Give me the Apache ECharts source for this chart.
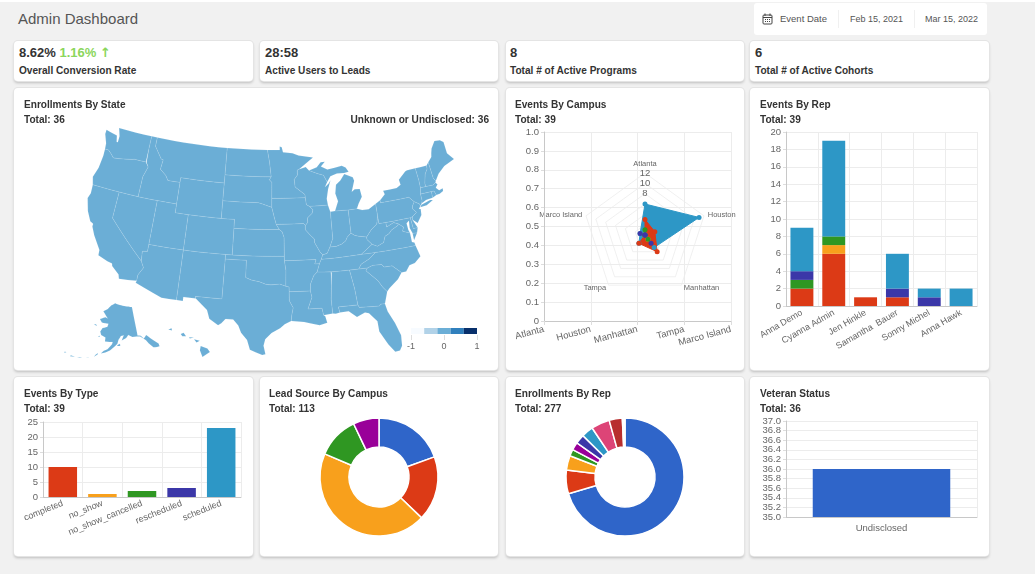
<!DOCTYPE html>
<html>
<head>
<meta charset="utf-8">
<title>Admin Dashboard</title>
<script src="https://cdn.jsdelivr.net/npm/echarts@6/dist/echarts.min.js"></script>
<style>
	html, body { margin: 0; padding: 0; width: 1035px; height: 574px; overflow: hidden; background: #f1f1f1; font-family: "Liberation Sans", Arial, sans-serif; color: #333; }
	.strip { position: absolute; left: 0; top: 0; width: 1035px; height: 2px; background: #fff; }
	.heading { position: absolute; left: 18px; top: 10px; font-size: 15px; color: #555; line-height: 18px; }
	.dates { position: absolute; left: 754px; top: 3px; width: 233px; height: 32px; background: #fff; border-radius: 3px; font-size: 9px; color: #555; line-height: 32px; }
	.dates span { position: absolute; top: 0; }
	.dates i { position: absolute; top: 7px; width: 1px; height: 18px; background: #f0f0f0; }
	.dates svg { position: absolute; left: 8px; top: 10px; }
	.card { position: absolute; background: #fff; border-radius: 4px; box-shadow: 0 0 0 1px #e4e4e4, 0 2px 3px rgba(0,0,0,.22); }
	.card b { position: absolute; white-space: pre; font-size: 10.1px; line-height: 12px; color: #333; }
	.card b.num { font-size: 13px; line-height: 16px; }
	.card b.num em { font-style: normal; color: #8bd65c; }
	.card b.num em u { text-decoration: none; font-family: "DejaVu Sans"; font-size: 13px; }
	.chart { position: absolute; left: 0; top: 0; width: 100%; height: 100%; }
</style>
</head>
<body>
<div class="strip"></div>
<div class="heading">Admin Dashboard</div>
<div class="dates">
	<svg width="11" height="12" viewBox="0 0 11 12" fill="none" stroke="#444" stroke-width="1"><rect x="1" y="2" width="9" height="9" rx="1"/><path d="M1 4.5h9M3 .5v2.5M8 .5v2.5"/><path d="M3 6.5h1M5 6.5h1M7 6.5h1M3 8.5h1M5 8.5h1M7 8.5h1"/></svg>
	<span style="left:26px;font-size:9.5px">Event Date</span><i style="left:84px"></i>
	<span style="left:96px">Feb 15, 2021</span><i style="left:160px"></i>
	<span style="left:171px">Mar 15, 2022</span>
</div>

<div class="card" style="left:14px;top:41px;width:239px;height:40px">
	<b class="num" style="left:5px;top:4px">8.62% <em>1.16% <u>↑</u></em></b><b style="left:5px;top:24px">Overall Conversion Rate</b>
</div>
<div class="card" style="left:260px;top:41px;width:238px;height:40px">
	<b class="num" style="left:5px;top:4px">28:58</b><b style="left:5px;top:24px">Active Users to Leads</b>
</div>
<div class="card" style="left:506px;top:41px;width:238px;height:40px">
	<b class="num" style="left:4px;top:4px">8</b><b style="left:4px;top:24px">Total # of Active Programs</b>
</div>
<div class="card" style="left:750px;top:41px;width:239px;height:40px">
	<b class="num" style="left:5px;top:4px">6</b><b style="left:5px;top:24px">Total # of Active Cohorts</b>
</div>

<div class="card" style="left:14px;top:88px;width:484px;height:282px">
	<div class="chart" id="stateChart"></div>
	<b style="left:10px;top:11px">Enrollments By State</b><b style="left:10px;top:26px">Total: 36</b>
	<b style="right:9px;top:26px">Unknown or Undisclosed: 36</b>
</div>
<div class="card" style="left:506px;top:88px;width:238px;height:282px">
	<div class="chart" id="campusChart"></div>
	<b style="left:9px;top:11px">Events By Campus</b><b style="left:9px;top:26px">Total: 39</b>
</div>
<div class="card" style="left:750px;top:88px;width:239px;height:282px">
	<div class="chart" id="repChart"></div>
	<b style="left:10px;top:11px">Events By Rep</b><b style="left:10px;top:26px">Total: 39</b>
</div>
<div class="card" style="left:14px;top:377px;width:239px;height:179px">
	<div class="chart" id="typeChart"></div>
	<b style="left:10px;top:11px">Events By Type</b><b style="left:10px;top:26px">Total: 39</b>
</div>
<div class="card" style="left:260px;top:377px;width:238px;height:179px">
	<div class="chart" id="leadChart"></div>
	<b style="left:9px;top:11px">Lead Source By Campus</b><b style="left:9px;top:26px">Total: 113</b>
</div>
<div class="card" style="left:506px;top:377px;width:238px;height:179px">
	<div class="chart" id="enrollChart"></div>
	<b style="left:9px;top:11px">Enrollments By Rep</b><b style="left:9px;top:26px">Total: 277</b>
</div>
<div class="card" style="left:750px;top:377px;width:239px;height:179px">
	<div class="chart" id="veteranChart"></div>
	<b style="left:10px;top:11px">Veteran Status</b><b style="left:10px;top:26px">Total: 36</b>
</div>

<script>
	const eventTypes = ["completed", "no_show", "no_show_cancelled", "rescheduled", "scheduled"]
	const typeCounts = [10, 1, 2, 3, 23]
	const typeColors = ["#dc3a16", "#f8a01c", "#2f9722", "#3b37a8", "#2d97c6"]

	const campuses = ["Atlanta", "Houston", "Manhattan", "Tampa", "Marco Island"]
	// radar runs counter-clockwise, so its spokes are listed the other way round
	const radarCampuses = ["Atlanta", "Marco Island", "Tampa", "Manhattan", "Houston"]
	const campusScheduled = [6, 1, 2, 3, 11]
	const campusCompleted = [3, 0, 2, 4, 2]
	const campusNoShow = [0, 0, 0, 1, 0]
	const campusCancelled = [1, 0, 0, 1, 0]
	const campusRescheduled = [0, 1, 0, 2, 0]

	const reps = ["Anna Demo", "Cyanna Admin", "Jen Hinkle", "Samantha  Bauer", "Sonny Michel", "Anna Hawk"]
	const repCompleted = [2, 6, 1, 1, 0, 0]
	const repNoShow = [0, 1, 0, 0, 0, 0]
	const repCancelled = [1, 1, 0, 0, 0, 0]
	const repRescheduled = [1, 0, 0, 1, 1, 0]
	const repScheduled = [5, 11, 0, 4, 1, 2]

	const leadSources = ["Atlanta", "Houston", "Manhattan", "Tampa", "Marco Island"]
	const leadCounts = [22, 20, 50, 13, 8]
	const leadColors = ["#2f65c9", "#dc3a16", "#f8a01c", "#2f9722", "#990099"]

	const enrollReps = ["Rep 1", "Rep 2", "Rep 3", "Rep 4", "Rep 5", "Rep 6", "Rep 7", "Rep 8", "Rep 9", "Rep 10", "Rep 11"]
	const enrollCounts = [195, 18, 11, 5, 6, 7, 9, 14, 10, 1, 1]
	const enrollColors = ["#2f65c9", "#dc3a16", "#f8a01c", "#2f9722", "#990099", "#3b37a8", "#2d97c6", "#dd4477", "#b82e2e", "#66aa00", "#316395"]

	const veteranLabels = ["Undisclosed"]
	const veteranCounts = [36]
	// echarts drops the tick next to min/max when they touch, so these two go on a second axis
	const veteranCrowdedTicks = ["35.2", "36.8"]

	const stateCodes = ["WA", "OR", "CA", "NV", "ID", "MT", "WY", "UT", "AZ", "CO", "NM", "TX", "OK", "KS", "NE", "SD", "ND", "MN", "IA", "MO", "AR", "LA", "MS", "AL", "GA", "FL", "SC", "NC", "TN", "KY", "VA", "WV", "MD", "DE", "OH", "IN", "IL", "WI", "MI", "PA", "NY", "NJ", "CT", "RI", "MA", "VT", "NH", "ME", "AK", "HI"]
	const stateValues = stateCodes.map(() => 0)
	const legendPieces = [-1, -0.6, -0.2, 0.2, 0.6, 1]
	const legendColors = ["#f7fbff", "#b1d2e8", "#6baed6", "#3080bd", "#08306b"]

	// base map outline, lon/lat; rings are hand traced and rough
	const stateRings = {
		WA: [[[-124.7,48.4],[-123.1,48.15],[-122.75,48.1],[-122.5,47.4],[-122.3,47.4],[-122.3,48.1],[-122.75,49],[-117.03,49],[-117.04,46],[-118.98,46],[-119.3,45.93],[-121.2,45.65],[-122.3,45.55],[-122.8,45.9],[-123.4,46.25],[-124,46.25],[-124.1,46.9],[-124.7,47.9]]],
		OR: [[[-124,46.25],[-123.4,46.25],[-122.8,45.9],[-122.3,45.55],[-121.2,45.65],[-119.3,45.93],[-118.98,46],[-117.04,46],[-116.92,45.98],[-116.5,45.5],[-117,44.3],[-117.03,42],[-120,42],[-124.2,42],[-124.55,42.85],[-124.1,44],[-123.95,45.5]]],
		CA: [[[-124.2,42],[-120,42],[-120,39],[-114.63,35],[-114.15,34.3],[-114.72,33.4],[-114.72,32.72],[-117.12,32.53],[-117.3,33],[-118.4,33.75],[-118.5,34.03],[-119.2,34.15],[-120.6,34.55],[-120.65,35.15],[-121.9,36.6],[-122.5,37.5],[-122.5,37.8],[-123,38],[-123.75,39],[-124.35,40.4],[-124.1,41]]],
		NV: [[[-120,42],[-117.03,42],[-114.04,42],[-114.04,37],[-114.04,36.2],[-114.75,36.1],[-114.63,35],[-120,39]]],
		ID: [[[-117.03,49],[-116.05,49],[-116.05,48],[-114.7,46.7],[-114.35,46.65],[-114.5,45.55],[-113.45,44.95],[-113,44.45],[-111.05,44.47],[-111.05,42],[-114.04,42],[-117.03,42],[-117,44.3],[-116.5,45.5],[-116.92,45.98],[-117.04,46]]],
		MT: [[[-116.05,49],[-104.05,49],[-104.05,45.94],[-104.05,45],[-111.05,45],[-111.05,44.47],[-113,44.45],[-113.45,44.95],[-114.5,45.55],[-114.35,46.65],[-114.7,46.7],[-116.05,48]]],
		WY: [[[-111.05,45],[-104.05,45],[-104.05,43],[-104.05,41],[-109.05,41],[-111.05,41],[-111.05,42],[-111.05,44.47]]],
		UT: [[[-114.04,42],[-111.05,42],[-111.05,41],[-109.05,41],[-109.05,37],[-114.04,37]]],
		AZ: [[[-114.04,37],[-109.05,37],[-109.05,31.33],[-111.07,31.33],[-114.81,32.5],[-114.72,32.72],[-114.72,33.4],[-114.15,34.3],[-114.63,35],[-114.75,36.1],[-114.04,36.2]]],
		CO: [[[-109.05,41],[-104.05,41],[-102.05,41],[-102.05,40],[-102.05,37],[-103,37],[-109.05,37]]],
		NM: [[[-109.05,37],[-103,37],[-103,36.5],[-103.05,32],[-106.62,32],[-106.53,31.78],[-108.2,31.78],[-108.2,31.33],[-109.05,31.33]]],
		TX: [[[-103,36.5],[-100,36.5],[-100,34.56],[-99.2,34.3],[-98.1,34.13],[-97.2,33.85],[-96.5,33.8],[-95.3,33.88],[-94.48,33.64],[-94.04,33.55],[-94.04,33.02],[-94.04,31.99],[-93.55,31.18],[-93.75,30.4],[-93.85,29.7],[-94.7,29.35],[-95.3,28.9],[-96.4,28.35],[-97.2,27.65],[-97.4,26.9],[-97.15,25.95],[-97.55,25.85],[-99.1,26.4],[-99.5,27.5],[-100.3,28.3],[-100.7,29.1],[-101.4,29.77],[-102.4,29.77],[-102.9,29.25],[-103.3,29],[-104.5,29.65],[-104.9,30.6],[-106.53,31.78],[-106.62,32],[-103.05,32]]],
		OK: [[[-103,37],[-102.05,37],[-94.62,37],[-94.62,36.5],[-94.43,35.4],[-94.48,33.64],[-95.3,33.88],[-96.5,33.8],[-97.2,33.85],[-98.1,34.13],[-99.2,34.3],[-100,34.56],[-100,36.5],[-103,36.5]]],
		KS: [[[-102.05,40],[-95.31,40],[-94.9,39.75],[-94.62,39.1],[-94.62,37],[-102.05,37]]],
		NE: [[[-104.05,43],[-98.5,43],[-97.85,42.85],[-96.45,42.5],[-96.1,41.5],[-95.77,40.58],[-95.31,40],[-102.05,40],[-102.05,41],[-104.05,41]]],
		SD: [[[-104.05,45.94],[-96.56,45.94],[-96.85,45.6],[-96.45,45.3],[-96.45,43.5],[-96.45,42.5],[-97.85,42.85],[-98.5,43],[-104.05,43],[-104.05,45]]],
		ND: [[[-104.05,49],[-97.23,49],[-96.85,47.6],[-96.56,45.94],[-104.05,45.94]]],
		MN: [[[-97.23,49],[-95.15,49],[-95.15,49.38],[-94.8,49.3],[-94.6,48.72],[-93,48.6],[-92,48.3],[-89.6,48],[-92,46.75],[-92.3,46.65],[-92.3,46.1],[-92.85,45.6],[-92.75,44.75],[-91.25,43.85],[-91.22,43.5],[-96.45,43.5],[-96.45,45.3],[-96.85,45.6],[-96.56,45.94],[-96.85,47.6]]],
		IA: [[[-96.45,43.5],[-91.22,43.5],[-91.1,42.7],[-90.65,42.5],[-90.15,42.1],[-90.3,41.7],[-91.05,41.2],[-91.05,40.7],[-91.42,40.38],[-91.7,40.6],[-95.77,40.58],[-96.1,41.5],[-96.45,42.5]]],
		MO: [[[-95.77,40.58],[-91.7,40.6],[-91.42,40.38],[-91.45,39.9],[-90.75,39.25],[-90.2,38.8],[-90.2,38.4],[-89.5,37.3],[-89.15,36.98],[-89.4,36.5],[-89.7,36],[-90.37,36],[-90.15,36.5],[-94.62,36.5],[-94.62,37],[-94.62,39.1],[-94.9,39.75],[-95.31,40]]],
		AR: [[[-94.62,36.5],[-90.15,36.5],[-90.37,36],[-89.7,36],[-90.1,35.1],[-90.6,34.7],[-91.1,33.8],[-91.17,33],[-94.04,33.02],[-94.04,33.55],[-94.48,33.64],[-94.43,35.4]]],
		LA: [[[-94.04,33.02],[-91.17,33],[-91,32.3],[-91.6,31],[-89.75,31],[-89.6,30.2],[-89.4,30.05],[-89.2,29.3],[-90.2,29.1],[-91.3,29.35],[-92.2,29.55],[-93.85,29.7],[-93.75,30.4],[-93.55,31.18],[-94.04,31.99]]],
		MS: [[[-90.1,35.1],[-88.2,35],[-88.1,34.9],[-88.45,31.9],[-88.4,30.3],[-89.6,30.2],[-89.75,31],[-91.6,31],[-91,32.3],[-91.17,33],[-91.1,33.8],[-90.6,34.7]]],
		AL: [[[-88.2,35],[-85.6,35],[-85.18,32.87],[-85,31],[-87.6,31],[-87.45,30.35],[-88,30.25],[-88.4,30.3],[-88.45,31.9],[-88.1,34.9]]],
		GA: [[[-85.6,35],[-84.32,35],[-83.1,35],[-83.35,34.7],[-81.9,33.4],[-81.4,32.6],[-80.9,32.05],[-81.45,30.72],[-82.05,30.75],[-82.2,30.55],[-84.85,30.7],[-85,31],[-85.18,32.87]]],
		FL: [[[-87.6,31],[-85,31],[-84.85,30.7],[-82.2,30.55],[-82.05,30.75],[-81.45,30.72],[-81.25,29.8],[-80.55,28.4],[-80.05,26.9],[-80.15,25.7],[-80.5,25.2],[-81.1,25.15],[-81.8,26.1],[-82.7,27.7],[-82.75,28.9],[-83.7,29.9],[-84.2,30.05],[-85.3,29.65],[-86.3,30.4],[-87.45,30.35]]],
		SC: [[[-83.1,35],[-82.3,35.2],[-81.05,35.15],[-80.8,34.82],[-79.67,34.8],[-78.55,33.87],[-79.2,33.2],[-80.5,32.4],[-80.9,32.05],[-81.4,32.6],[-81.9,33.4],[-83.35,34.7]]],
		NC: [[[-81.68,36.59],[-75.9,36.55],[-75.55,35.25],[-76.5,34.65],[-77.3,34.5],[-77.9,33.9],[-78.55,33.87],[-79.67,34.8],[-80.8,34.82],[-81.05,35.15],[-82.3,35.2],[-83.1,35],[-84.32,35],[-83.9,35.5],[-82.6,36]]],
		TN: [[[-89.4,36.5],[-88.07,36.5],[-83.68,36.6],[-81.68,36.59],[-82.6,36],[-83.9,35.5],[-84.32,35],[-85.6,35],[-88.2,35],[-90.1,35.1],[-89.7,36]]],
		KY: [[[-89.4,36.5],[-89.15,36.98],[-88.5,37.1],[-88.05,37.8],[-87.1,37.8],[-86.3,38],[-85.7,38.3],[-85.4,38.7],[-84.8,39.1],[-84.3,38.8],[-83.7,38.65],[-82.6,38.45],[-82.6,38.15],[-81.97,37.54],[-83.68,36.6],[-88.07,36.5]]],
		VA: [[[-83.68,36.6],[-81.97,37.54],[-81.25,37.25],[-80.3,37.55],[-79.95,38.2],[-79.3,38.42],[-78.87,38.77],[-77.83,39.13],[-77.72,39.32],[-77.05,38.85],[-77.3,38.4],[-76.3,38.05],[-76.3,37],[-75.97,36.9],[-75.9,36.55],[-81.68,36.59]], [[-75.95,37.95],[-75.3,37.9],[-75.95,37.15]]],
		WV: [[[-81.97,37.54],[-82.6,38.15],[-82.6,38.45],[-81.75,39.2],[-80.85,39.7],[-80.52,40.64],[-80.52,39.72],[-79.48,39.72],[-79.48,39.2],[-78.35,39.55],[-77.72,39.32],[-77.83,39.13],[-78.87,38.77],[-79.3,38.42],[-79.95,38.2],[-80.3,37.55],[-81.25,37.25]]],
		MD: [[[-79.48,39.72],[-75.79,39.72],[-75.7,38.46],[-75.05,38.45],[-75.3,37.9],[-75.95,37.95],[-76.2,38.6],[-76.1,39.4],[-76.5,39.2],[-76.45,38.4],[-76.3,38.05],[-77.3,38.4],[-77.05,38.85],[-77.72,39.32],[-78.35,39.55],[-79.48,39.2]]],
		DE: [[[-75.79,39.72],[-75.4,39.8],[-75.55,39.45],[-75.05,38.45],[-75.7,38.46]]],
		OH: [[[-84.8,41.72],[-83.45,41.73],[-82.7,41.5],[-81.7,41.5],[-80.52,41.98],[-80.52,40.64],[-80.85,39.7],[-81.75,39.2],[-82.6,38.45],[-83.7,38.65],[-84.3,38.8],[-84.8,39.1]]],
		IN: [[[-87.53,41.72],[-86.8,41.76],[-84.8,41.72],[-84.8,39.1],[-85.4,38.7],[-85.7,38.3],[-86.3,38],[-87.1,37.8],[-88.05,37.8],[-87.53,38.7]]],
		IL: [[[-90.65,42.5],[-87.8,42.5],[-87.53,41.72],[-87.53,38.7],[-88.05,37.8],[-88.5,37.1],[-89.15,36.98],[-89.5,37.3],[-90.2,38.4],[-90.2,38.8],[-90.75,39.25],[-91.45,39.9],[-91.42,40.38],[-91.05,40.7],[-91.05,41.2],[-90.3,41.7],[-90.15,42.1]]],
		WI: [[[-92.3,46.65],[-92,46.75],[-90.9,46.95],[-90.4,46.55],[-89.1,46.15],[-88.1,45.9],[-87.6,45.1],[-88,44.55],[-87.4,44.9],[-87.05,45.25],[-87.55,44.3],[-87.9,43.2],[-87.8,42.5],[-90.65,42.5],[-91.1,42.7],[-91.22,43.5],[-91.25,43.85],[-92.75,44.75],[-92.85,45.6],[-92.3,46.1]]],
		MI: [[[-86.8,41.76],[-84.8,41.72],[-83.45,41.73],[-83.1,42.25],[-82.45,43],[-82.6,43.9],[-83.4,43.95],[-83.9,43.7],[-83.3,44.9],[-83.45,45.3],[-84.75,45.78],[-85.5,45.1],[-86.25,44.7],[-86.5,43.7],[-86.2,42.8]], [[-90.4,46.55],[-89.1,46.85],[-88.4,47.4],[-87.7,47.4],[-88.4,46.9],[-87.4,46.5],[-85,46.75],[-84.4,46.5],[-84,46],[-84.75,45.9],[-85.9,45.95],[-87,45.7],[-87.6,45.1],[-88.1,45.9],[-89.1,46.15]]],
		PA: [[[-80.52,41.98],[-79.76,42.27],[-79.76,42],[-75.35,42],[-74.7,41.36],[-75.1,40.95],[-75.2,40.65],[-74.72,40.15],[-75.4,39.8],[-75.79,39.72],[-79.48,39.72],[-80.52,39.72],[-80.52,40.64]]],
		NY: [[[-79.76,42],[-79.76,42.27],[-78.9,42.85],[-79.05,43.27],[-76.9,43.3],[-76.2,43.55],[-76.3,44.15],[-75,44.95],[-74.7,45],[-73.35,45],[-73.25,43.6],[-73.28,42.75],[-73.5,42.05],[-73.5,41.3],[-73.65,41],[-73.95,40.75],[-74,41],[-74.7,41.36],[-75.35,42]], [[-74,40.6],[-73.75,40.85],[-72.3,41.15],[-71.9,41.05],[-73,40.65]]],
		NJ: [[[-74.7,41.36],[-74,41],[-73.95,40.75],[-74.25,40.45],[-74,40.4],[-74.1,39.75],[-74.9,38.95],[-75.55,39.45],[-75.4,39.8],[-74.72,40.15],[-75.2,40.65],[-75.1,40.95]]],
		CT: [[[-73.5,42.05],[-71.8,42.02],[-71.85,41.32],[-72.9,41.25],[-73.65,41],[-73.5,41.3]]],
		RI: [[[-71.8,42.02],[-71.38,42.02],[-71.2,41.5],[-71.85,41.32]]],
		MA: [[[-73.5,42.05],[-73.28,42.75],[-72.46,42.73],[-71.3,42.7],[-70.85,42.87],[-70.6,42.65],[-71,42.3],[-70.6,41.95],[-70,42.05],[-70.05,41.75],[-70.65,41.55],[-71.2,41.5],[-71.38,42.02],[-71.8,42.02]]],
		VT: [[[-73.35,45],[-71.5,45],[-71.55,44.6],[-72.05,44.1],[-72.45,43.1],[-72.46,42.73],[-73.28,42.75],[-73.25,43.6]]],
		NH: [[[-71.5,45],[-71.1,45.3],[-70.98,43.4],[-70.7,43.07],[-70.85,42.87],[-71.3,42.7],[-72.46,42.73],[-72.45,43.1],[-72.05,44.1],[-71.55,44.6]]],
		ME: [[[-71.1,45.3],[-70.4,45.8],[-70.25,46.2],[-70,46.7],[-69.2,47.45],[-68.3,47.35],[-67.8,47.05],[-67.8,45.7],[-67,44.85],[-68.8,44.4],[-70,43.75],[-70.7,43.07],[-70.98,43.4]]],
		AK: [[[-141,69.65],[-141,60.3],[-139,60],[-137.5,58.9],[-135.5,59.8],[-133.5,58.4],[-130,55.9],[-130,55],[-131.5,55],[-133.5,55.3],[-135.5,57],[-136.5,58.2],[-139.5,59.8],[-141.5,60],[-144.5,60.1],[-147,60.9],[-148.5,60],[-151.5,59.3],[-150,60.9],[-151.9,60.7],[-153.5,59.5],[-154.2,58.2],[-156.5,57],[-158.5,56],[-161,55.2],[-163.5,54.7],[-162,55.7],[-160,56.3],[-157.5,58],[-157.2,58.8],[-159,58.7],[-162,58.7],[-162,60],[-165,60.6],[-166,61.7],[-164.8,62.9],[-161.5,63.5],[-161,64.5],[-166,64.6],[-168,65.6],[-164,66.5],[-162,66.2],[-163.8,67.1],[-166.5,68.3],[-163,69.3],[-160,70.6],[-156.5,71.35],[-152,70.8],[-148,70.4],[-144,70]],
			[[-154.5,57.5],[-152.5,57.5],[-152.6,58.2],[-153.9,57.9]], [[-171.5,63.5],[-168.8,63.2],[-170,63.7]], [[-167,60],[-165.5,59.9],[-166,60.3]],
			[[-164.9,54.4],[-166.9,53.3],[-167,53.6],[-165.2,54.6]], [[-169,52.7],[-171,52.3],[-170.8,52.6]], [[-172.8,52.1],[-175.5,51.8],[-175.3,52.1]], [[-176.5,51.7],[-179,51.3],[-178.8,51.7]],
			[[-181.5,52],[-182.5,51.6],[-182.4,52]], [[-187.2,52.95],[-186.6,52.7],[-186.3,53]]],
		HI: [[[-155.9,20.2],[-155.1,19.9],[-154.8,19.5],[-155.7,18.95],[-156,19.7]], [[-156.7,20.95],[-156,20.8],[-156.4,20.58]], [[-158.3,21.55],[-157.95,21.7],[-157.65,21.3],[-158.1,21.3]], [[-159.8,22.05],[-159.4,22.2],[-159.35,21.95]], [[-157.3,21.2],[-156.7,21.15],[-157.2,21.05]]],
	}

	function conic(lon0, p1, p2, centerLon, centerLat, k, dx, dy) {
		const rad = Math.PI / 180
		const n = (Math.sin(p1 * rad) + Math.sin(p2 * rad)) / 2
		const c = Math.cos(p1 * rad) ** 2 + 2 * n * Math.sin(p1 * rad)
		const r0 = Math.sqrt(c) / n
		const raw = (lon, lat) => {
			const r = Math.sqrt(c - 2 * n * Math.sin(lat * rad)) / n
			const a = (lon - lon0) * rad * n
			return [r * Math.sin(a), r0 - r * Math.cos(a)]
		}
		const mid = raw(centerLon, centerLat)
		return (lon, lat) => {
			const p = raw(lon, lat)
			return [(p[0] - mid[0]) * k + dx, -(p[1] - mid[1]) * k + dy]
		}
	}

	// same arrangement as d3.geoAlbersUsa: lower 48 plus the two insets
	const lower48 = conic(-96, 29.5, 45.5, -96.6, 38.7, 1, 0, 0)
	const alaska = conic(-154, 55, 65, -156, 58.5, 0.35, -0.307, 0.201)
	const hawaii = conic(-157, 8, 18, -160, 19.9, 1, -0.205, 0.212)
	const mapStretch = 1.087 // the reference map is a bit taller than true Albers
	const usaProjection = {
		project: ([lon, lat]) => {
			const p = lat > 51 || lon < -165 ? alaska(lon, lat) : lat < 24 ? hawaii(lon, lat) : lower48(lon, lat)
			return [p[0] * 1000, p[1] * 1000 * mapStretch]
		},
		unproject: (p) => p,
	}

	// straight lon/lat runs have to bend once projected
	function densify(ring) {
		const out = []
		ring.forEach((a, i) => {
			const b = ring[(i + 1) % ring.length]
			const steps = Math.ceil(Math.max(Math.abs(b[0] - a[0]), Math.abs(b[1] - a[1])) / 1.5) || 1
			for (let s = 0; s < steps; s++) {
				out.push([a[0] + ((b[0] - a[0]) * s) / steps, a[1] + ((b[1] - a[1]) * s) / steps])
			}
		})
		out.push(out[0])
		return out
	}

	echarts.registerMap("USA", {
		type: "FeatureCollection",
		features: stateCodes.map((code) => ({
			type: "Feature",
			properties: { name: code },
			geometry: { type: "MultiPolygon", coordinates: stateRings[code].map((ring) => [densify(ring)]) },
		})),
	})

	const gridLine = { lineStyle: { color: "#ececec", width: 1 } }
	const axisLine = { lineStyle: { color: "#c8c8c8", width: 1 } }
	const labelColor = "#666"

	function bandAxis(data, rotate, fontSize) {
		return {
			type: "category",
			data,
			axisLine,
			axisTick: { length: 4, lineStyle: { color: "#ddd" } },
			splitLine: { show: true, ...gridLine },
			axisLabel: { interval: 0, rotate, color: labelColor, fontSize, margin: 6, hideOverlap: false },
		}
	}

	function valueAxis(min, max, interval, fontSize, decimals) {
		return {
			type: "value",
			min,
			max,
			interval,
			axisLine: { show: true, ...axisLine },
			axisTick: { show: true, length: 3, lineStyle: { color: "#ddd" } },
			splitLine: gridLine,
			axisLabel: {
				color: labelColor,
				fontSize,
				margin: 5,
				hideOverlap: false,
				showMinLabel: true,
				showMaxLabel: true,
				formatter: (v) => (decimals ? v.toFixed(decimals) : String(v)),
			},
		}
	}

	const stateChart = echarts.init(document.getElementById("stateChart"))
	stateChart.setOption({
		animation: false,
		visualMap: {
			type: "piecewise",
			orient: "horizontal",
			left: 397,
			top: 240,
			padding: 0,
			itemWidth: 13.2,
			itemHeight: 6,
			itemGap: 0,
			itemSymbol: "rect",
			showLabel: false,
			selectedMode: false,
			pieces: legendColors.map((color, i) => ({ min: legendPieces[i], max: legendPieces[i + 1], color })),
		},
		grid: { left: 397, top: 246, width: 66, height: 1, show: false },
		xAxis: {
			type: "value",
			min: -1,
			max: 1,
			interval: 1,
			axisLine: { show: false },
			axisTick: { show: true, length: 5, lineStyle: { color: "#ddd" } },
			splitLine: { show: false },
			axisLabel: { color: labelColor, fontSize: 9, margin: 7 },
		},
		yAxis: { type: "value", show: false },
		series: [
			{
				type: "map",
				map: "USA",
				projection: usaProjection,
				left: 44,
				top: 40,
				width: 396,
				height: 230,
				aspectScale: 1,
				silent: true,
				label: { show: false },
				itemStyle: { borderColor: "rgba(255,255,255,0.2)", borderWidth: 0.5 },
				data: stateCodes.map((name, i) => ({ name, value: stateValues[i] })),
			},
		],
	})

	const campusSeries = [
		[campusScheduled, typeColors[4]],
		[campusCompleted, typeColors[0]],
		[campusNoShow, typeColors[1]],
		[campusCancelled, typeColors[2]],
		[campusRescheduled, typeColors[3]],
	]
	const campusChart = echarts.init(document.getElementById("campusChart"))
	campusChart.setOption({
		animation: false,
		grid: { left: 38, top: 44, width: 187, height: 189 },
		xAxis: { ...bandAxis(campuses, 15, 9.5), boundaryGap: false, axisLabel: { interval: 0, rotate: 15, color: labelColor, fontSize: 9.5, margin: 8, hideOverlap: false, showMinLabel: true, showMaxLabel: true } },
		yAxis: { ...valueAxis(0, 1, 0.1, 9.5, 0), axisLabel: { color: labelColor, fontSize: 9.5, margin: 5, formatter: (v) => (v === 0 ? "0" : v.toFixed(1)) } },
		radar: {
			center: [139, 147],
			radius: 62,
			startAngle: 90,
			splitNumber: 6,
			indicator: radarCampuses.map((name, i) => ({ name, max: 12, min: 0, axisLabel: { show: i === 0 } })),
			axisName: { color: "#666", fontSize: 7.5 },
			nameGap: 4,
			axisLine: { show: false },
			axisTick: { show: false },
			splitArea: { show: false },
			splitLine: { lineStyle: { color: "#eaeaea", width: 0.7 } },
			axisLabel: { show: true, color: "#666", fontSize: 9.5, margin: 0, align: "center", formatter: (v) => (v >= 8 ? String(v) : "") },
		},
		series: campusSeries.map(([values, color]) => ({
			type: "radar",
			symbol: "circle",
			symbolSize: 5,
			lineStyle: { color, width: 1 },
			itemStyle: { color },
			areaStyle: { color, opacity: 1 },
			data: [{ value: values }],
		})),
	})

	const repSeries = [repCompleted, repNoShow, repCancelled, repRescheduled, repScheduled]
	const repChart = echarts.init(document.getElementById("repChart"))
	repChart.setOption({
		animation: false,
		grid: { left: 36, top: 44, width: 191, height: 174 },
		xAxis: bandAxis(reps, 30, 9),
		yAxis: valueAxis(0, 20, 2, 9.5),
		series: repSeries.map((values, i) => ({
			type: "bar",
			stack: "events",
			barWidth: "72%",
			itemStyle: { color: typeColors[i] },
			data: values,
		})),
	})

	const typeChart = echarts.init(document.getElementById("typeChart"))
	typeChart.setOption({
		animation: false,
		grid: { left: 29, top: 45, width: 198, height: 75 },
		xAxis: bandAxis(eventTypes, 22, 9),
		yAxis: valueAxis(0, 25, 5, 9.5),
		series: [
			{
				type: "bar",
				barWidth: "72%",
				data: typeCounts.map((value, i) => ({ value, itemStyle: { color: typeColors[i] } })),
			},
		],
	})

	function donut(id, names, counts, colors) {
		const chart = echarts.init(document.getElementById(id))
		chart.setOption({
			animation: false,
			series: [
				{
					type: "pie",
					center: [119, 100],
					radius: [30, 59],
					startAngle: 90,
					label: { show: false },
					labelLine: { show: false },
					itemStyle: { borderColor: "#fff", borderWidth: 1.5 },
					data: names.map((name, i) => ({ name, value: counts[i], itemStyle: { color: colors[i] } })),
				},
			],
		})
	}
	donut("leadChart", leadSources, leadCounts, leadColors)
	donut("enrollChart", enrollReps, enrollCounts, enrollColors)

	const veteranAxis = valueAxis(35, 37, 0.2, 9.5, 1)
	const veteranChart = echarts.init(document.getElementById("veteranChart"))
	veteranChart.setOption({
		animation: false,
		grid: { left: 36, top: 44, width: 191, height: 96 },
		xAxis: bandAxis(veteranLabels, 0, 9.5),
		yAxis: [
			{
				...veteranAxis,
				axisLabel: {
					...veteranAxis.axisLabel,
					formatter: (v) => (veteranCrowdedTicks.includes(v.toFixed(1)) ? "" : v.toFixed(1)),
				},
			},
			{
				...veteranAxis,
				position: "left",
				axisLine: { show: false },
				axisTick: { show: false },
				splitLine: { show: false },
				axisLabel: {
					...veteranAxis.axisLabel,
					formatter: (v) => (veteranCrowdedTicks.includes(v.toFixed(1)) ? v.toFixed(1) : ""),
				},
			},
		],
		series: [{ type: "bar", barWidth: "72%", itemStyle: { color: "#2f65c9" }, data: veteranCounts }],
	})
</script>
</body>
</html>
